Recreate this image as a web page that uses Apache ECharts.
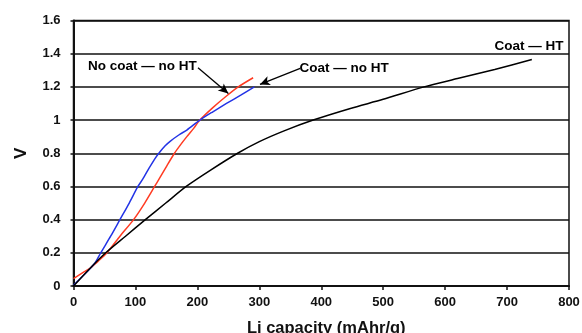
<!DOCTYPE html>
<html><head><meta charset="utf-8">
<script src="https://cdn.jsdelivr.net/npm/echarts@6/dist/echarts.min.js"></script>
<style>html,body{margin:0;padding:0;background:#fff}#c{width:582px;height:333px}</style>
</head><body><div id="c"></div>
<script>
var xTicks = [0,100,200,300,400,500,600,700,800];
var yTicks = [0,0.2,0.4,0.6,0.8,1,1.2,1.4,1.6];
var blueX = [0,15,27,35,44,60,75,90,104,112,122,131,140,148,156,170,183,204,225,247,270,292];
var blueY = [0.005,0.06,0.106,0.14,0.2,0.3,0.4,0.5,0.6,0.645,0.71,0.765,0.81,0.845,0.872,0.91,0.94,1.0,1.05,1.1,1.15,1.2];
var redX = [0,15,27,40,54,75,97,115,131,139,150,163,173,183,194,204,225,247,266,290];
var redY = [0.045,0.08,0.108,0.15,0.2,0.3,0.4,0.5,0.6,0.65,0.72,0.8,0.852,0.9,0.95,1.0,1.075,1.145,1.2,1.255];
var blackX = [0,25,52,84,116,149,182,222,265,300,340,387,447,500,566,620,680,740];
var blackY = [0,0.1,0.2,0.3,0.4,0.5,0.6,0.7,0.8,0.87,0.935,1.0,1.07,1.125,1.2,1.25,1.305,1.365];
var seriesNames = ['No coat — no HT','Coat — no HT','Coat — HT'];
// annotation anchors in data units
var labelAnchors = [[199,1.325],[365,1.31],[791,1.445]];
var arrows = [[[201,1.315],[250,1.16]],[[366,1.311],[301,1.215]]];

function zip(a,b){return a.map(function(v,i){return [v,b[i]];});}
var chart = echarts.init(document.getElementById('c'));
var font = 'Liberation Sans, Arial, sans-serif';
var option = {
  animation:false,
  grid:{left:73.5,right:13,top:20.5,bottom:47,show:true,borderColor:'#111',borderWidth:1.5,
    containLabel:false,outerBoundsMode:'none'},
  xAxis:{type:'value',min:0,max:800,interval:100,
    name:'Li capacity (mAhr/g)',nameLocation:'middle',nameGap:34,
    nameTextStyle:{fontFamily:font,fontWeight:'bold',fontSize:16.5,color:'#111',padding:[0,0,0,10]},
    axisLine:{lineStyle:{color:'#111',width:2}},
    axisTick:{show:true,length:4,lineStyle:{color:'#111',width:1.5}},
    axisLabel:{fontFamily:font,fontWeight:'bold',fontSize:13,color:'#111',margin:10},
    splitLine:{show:false}},
  yAxis:{type:'value',min:0,max:1.6,interval:0.2,
    name:'V',nameLocation:'middle',nameGap:44,nameRotate:90,
    nameTextStyle:{fontFamily:font,fontWeight:'bold',fontSize:17,color:'#111'},
    axisLine:{show:true,lineStyle:{color:'#111',width:2}},
    axisTick:{show:true,length:3,lineStyle:{color:'#111',width:1.5}},
    axisLabel:{fontFamily:font,fontWeight:'bold',fontSize:13,color:'#111',margin:13},
    splitLine:{show:true,lineStyle:{color:'#111',width:1.5}}},
  series:[
    {name:seriesNames[0],type:'line',data:zip(redX,redY),smooth:0.25,showSymbol:false,
      lineStyle:{color:'#ff3b22',width:1.5},
      markLine:{silent:true,symbol:['none','arrow'],symbolSize:[7,10],animation:false,
        label:{show:false},lineStyle:{color:'#000',width:1.3,type:'solid'},
        data:[[{coord:arrows[0][0]},{coord:arrows[0][1]}]]}},
    {name:seriesNames[1],type:'line',data:zip(blueX,blueY),smooth:0.25,showSymbol:false,
      lineStyle:{color:'#2233e6',width:1.5},
      markLine:{silent:true,symbol:['none','arrow'],symbolSize:[7,10],animation:false,
        label:{show:false},lineStyle:{color:'#000',width:1.3,type:'solid'},
        data:[[{coord:arrows[1][0]},{coord:arrows[1][1]}]]}},
    {name:seriesNames[2],type:'line',data:zip(blackX,blackY),smooth:0.25,showSymbol:false,
      lineStyle:{color:'#000',width:1.5}}
  ]
};
chart.setOption(option);
var aligns = ['right','left','right'];
var g = labelAnchors.map(function(p,i){
  var px = chart.convertToPixel({gridIndex:0},p);
  return {type:'text',x:px[0],y:px[1],style:{text:seriesNames[i],fill:'#000',
    font:'bold 13.5px '+font,align:aligns[i],verticalAlign:'middle'}};
});
chart.setOption({graphic:g});
</script></body></html>
